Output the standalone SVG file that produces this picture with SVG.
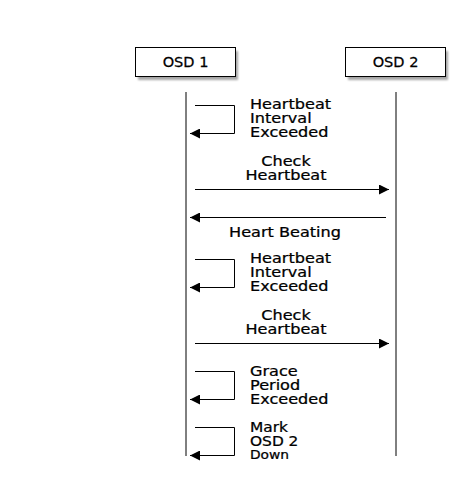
<svg xmlns="http://www.w3.org/2000/svg" width="470" height="490" viewBox="0 0 470 490">
<style>
.box{fill:#ffffff;stroke:#000000;stroke-width:1}
.shadow{fill:#000000;opacity:0.35}
.life{stroke:#000000;stroke-width:1;fill:none}
.msg{stroke:#000000;stroke-width:1;fill:none}
text{font-family:"DejaVu Sans","Liberation Sans",sans-serif;font-size:14px;fill:#000000;stroke:#000000;stroke-width:0.25px}
.c{text-anchor:middle}
.s{font-size:12px}
</style>
<defs>
<filter id="blur" x="-10%" y="-20%" width="120%" height="140%"><feGaussianBlur stdDeviation="1.2"/></filter>
<marker id="ah" markerWidth="11" markerHeight="10" refX="10" refY="5" orient="auto" markerUnits="userSpaceOnUse">
<path d="M0,0 L10,5 L0,10 Z" fill="#000000"/>
</marker>
</defs>
<rect width="470" height="490" fill="#ffffff"/>
<g id="osd1">
<rect class="shadow" x="138" y="51" width="100" height="29" filter="url(#blur)"/>
<rect class="box" x="135.5" y="47.5" width="100" height="29"/>
<text class="c" transform="translate(185.5,67) scale(1.04,1)">OSD 1</text>
<line class="life" x1="186" y1="92" x2="186" y2="456"/>
</g>
<g id="osd2">
<rect class="shadow" x="348" y="51" width="100" height="29" filter="url(#blur)"/>
<rect class="box" x="345.5" y="47.5" width="100" height="29"/>
<text class="c" transform="translate(395.5,67) scale(1.04,1)">OSD 2</text>
<line class="life" x1="396" y1="92" x2="396" y2="456"/>
</g>
<g id="connectors">
<path class="msg" d="M195,105.5 H234.5 V133.5 H190" marker-end="url(#ah)"/>
<line class="msg" x1="195" y1="189.5" x2="389" y2="189.5" marker-end="url(#ah)"/>
<line class="msg" x1="386" y1="217.5" x2="190" y2="217.5" marker-end="url(#ah)"/>
<path class="msg" d="M195,259.5 H234.5 V287.5 H190" marker-end="url(#ah)"/>
<line class="msg" x1="195" y1="343.5" x2="389" y2="343.5" marker-end="url(#ah)"/>
<path class="msg" d="M195,371.5 H234.5 V399.5 H190" marker-end="url(#ah)"/>
<path class="msg" d="M195,427.5 H234.5 V455.5 H190" marker-end="url(#ah)"/>
</g>
<g id="labels">
<text transform="translate(250,109) scale(1.15,1)">Heartbeat</text>
<text transform="translate(250,123) scale(1.15,1)">Interval</text>
<text transform="translate(250,137) scale(1.15,1)">Exceeded</text>
<text class="c" transform="translate(286,166) scale(1.15,1)">Check</text>
<text class="c" transform="translate(286,180) scale(1.15,1)">Heartbeat</text>
<text class="c" transform="translate(285,237) scale(1.15,1)">Heart Beating</text>
<text transform="translate(250,263) scale(1.15,1)">Heartbeat</text>
<text transform="translate(250,277) scale(1.15,1)">Interval</text>
<text transform="translate(250,291) scale(1.15,1)">Exceeded</text>
<text class="c" transform="translate(286,320) scale(1.15,1)">Check</text>
<text class="c" transform="translate(286,334) scale(1.15,1)">Heartbeat</text>
<text transform="translate(250,376) scale(1.15,1)">Grace</text>
<text transform="translate(250,390) scale(1.15,1)">Period</text>
<text transform="translate(250,404) scale(1.15,1)">Exceeded</text>
<text transform="translate(250,432) scale(1.1,1)">Mark</text>
<text transform="translate(250,446) scale(1.1,1)">OSD 2</text>
<text class="s" transform="translate(250,459) scale(1.15,1)">Down</text>
</g>
</svg>
